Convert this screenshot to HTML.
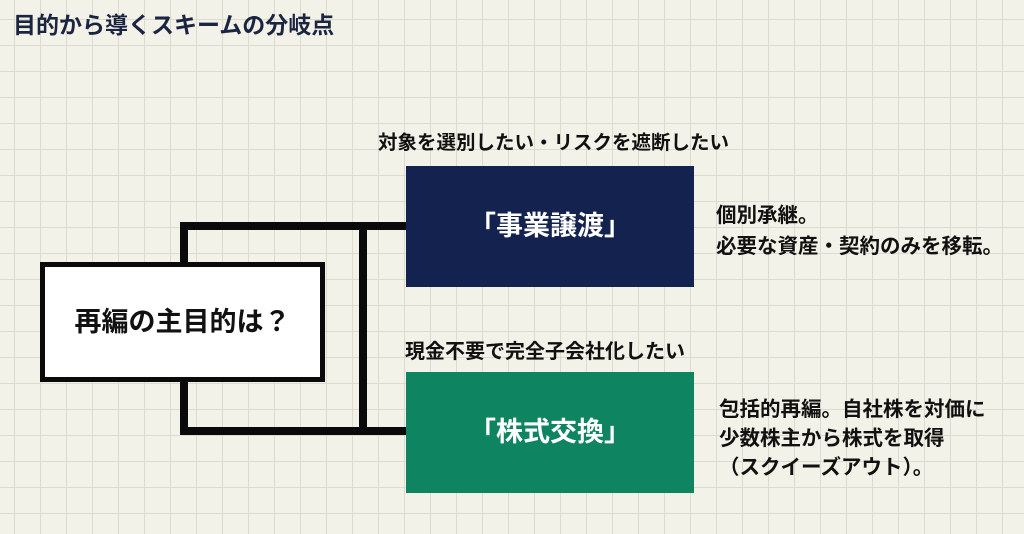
<!DOCTYPE html>
<html><head><meta charset="utf-8"><style>
body{margin:0;width:1024px;height:534px;overflow:hidden;position:relative;
background-color:#f3f2e8;
background-image:linear-gradient(#dddbd0 1px,transparent 1px),linear-gradient(90deg,#dddbd0 1px,transparent 1px);
background-size:26px 26px;background-position:14px 19px;
font-family:"Liberation Sans","Noto Sans CJK JP",sans-serif;font-weight:bold;color:#111;}
.a{position:absolute;white-space:nowrap;}
.l{position:absolute;background:#0a0a0a;}
</style></head><body>
<div class="a" style="left:13px;top:10px;font-size:23px;line-height:30px;color:#1b2541;">目的から導くスキームの分岐点</div>
<div class="l" style="left:180px;top:222px;width:227px;height:8px;"></div>
<div class="l" style="left:180px;top:427px;width:227px;height:8px;"></div>
<div class="l" style="left:180px;top:222px;width:8px;height:213px;"></div>
<div class="l" style="left:359px;top:222px;width:8px;height:213px;"></div>
<div class="a" style="left:40px;top:262px;width:275px;height:110px;border:5px solid #0a0a0a;background:#fff;text-align:center;line-height:110px;font-size:27px;">再編の主目的は？</div>
<div class="a" style="left:366px;top:130px;width:375px;text-align:center;font-size:19.5px;line-height:26px;">対象を選別したい・リスクを遮断したい</div>
<div class="a" style="left:406px;top:166px;width:288px;height:121px;background:#13224f;color:#fff;text-align:center;line-height:121px;font-size:27px;">「事業譲渡」</div>
<div class="a" style="left:716px;top:200px;font-size:20.5px;line-height:31px;">個別承継。<br>必要な資産・契約のみを移転。</div>
<div class="a" style="left:405px;top:339px;font-size:20px;line-height:26px;">現金不要で完全子会社化したい</div>
<div class="a" style="left:406px;top:372px;width:288px;height:121px;background:#0e8560;color:#fff;text-align:center;line-height:121px;font-size:27px;">「株式交換」</div>
<div class="a" style="left:719px;top:395px;font-size:20.5px;line-height:29px;">包括的再編。自社株を対価に<br>少数株主から株式を取得<br>（スクイーズアウト）。</div>
</body></html>
